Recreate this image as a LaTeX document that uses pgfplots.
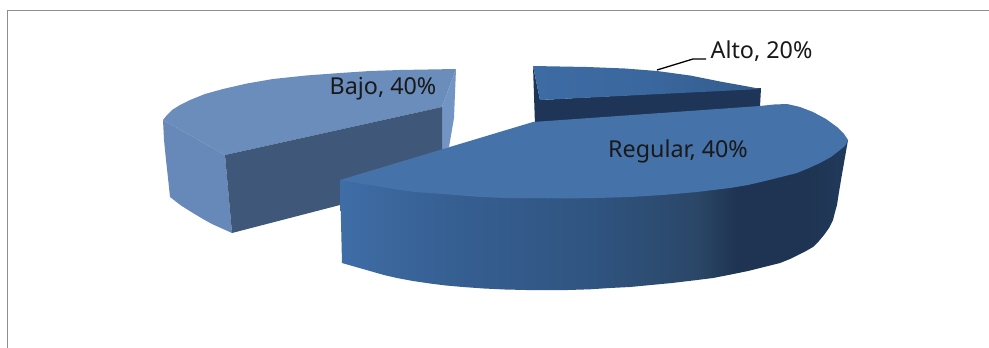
\documentclass[border=0pt]{standalone}
\usepackage{fontspec}
\setmainfont{Noto Sans}
\usepackage{pgfplots}
\pgfplotsset{compat=1.18}
\definecolor{frameline}{HTML}{8E8E8E}
\definecolor{bajotop}{HTML}{6A8DBC}
\definecolor{bajorim}{HTML}{6689B9}
\definecolor{bajoedge}{HTML}{7295C3}
\definecolor{bajowall}{HTML}{3F5879}
\definecolor{altotop}{HTML}{3A679E}
\definecolor{altowall}{HTML}{1E3557}
\definecolor{regtop}{HTML}{4472A9}
\definecolor{regA}{HTML}{3F6DA6}
\definecolor{regB}{HTML}{365F92}
\definecolor{regC}{HTML}{2F5480}
\definecolor{regD}{HTML}{2B4768}
\definecolor{regE}{HTML}{1F3452}
\definecolor{regF}{HTML}{203A5C}
\definecolor{altA}{HTML}{3D6BA3}
\definecolor{altB}{HTML}{345C8D}
% The middle of a declared shading (25bp to 75bp) spans the filled path.
\pgfdeclarehorizontalshading{regrim}{100bp}{
  color(0bp)=(regA); color(25bp)=(regA); color(36bp)=(regB); color(50bp)=(regC);
  color(60bp)=(regD); color(64bp)=(regE); color(71bp)=(regE); color(75bp)=(regF); color(100bp)=(regF)}
\pgfdeclarehorizontalshading{alttop}{100bp}{
  color(0bp)=(altA); color(25bp)=(altA); color(50bp)=(altotop); color(75bp)=(altB); color(100bp)=(altB)}
\begin{document}
\begin{tikzpicture}
\begin{axis}[
  scale only axis, width=989pt, height=348pt,
  xmin=0, xmax=989, ymin=0, ymax=348, y dir=reverse,
  hide axis,
  every axis plot/.append style={no markers},
]
% white ground that fixes the extent of the drawing
\addplot[fill=white, draw=none] coordinates {(0,0) (989,0) (989,348) (0,348)} -- cycle;
% chart frame: open on the right and at the bottom
\addplot[frameline, line width=1.3pt] coordinates {(7.5,348) (7.5,10.5) (989,10.5)};

% Bajo slice
\addplot[fill=bajotop, draw=none] coordinates {
  (456,69) (428,69.5) (400,70) (370,71) (340,73) (306,75.5) (273,79) (247,83.5) (223,89)
  (205,94) (190,100) (180,105) (172,110) (167,115) (163,120)
  (225,155) (442,107)} -- cycle;
\addplot[fill=bajorim, draw=none] coordinates {
  (163,120) (225,155) (232,233) (222,228.5) (212,224) (203,219) (193,213) (181,205.5) (170,197)
  (168,178) (166,160) (164,140)} -- cycle;
\addplot[fill=bajoedge, draw=none] coordinates {
  (456,69) (442,107) (442,150) (449,147) (454,118)} -- cycle;
\addplot[fill=bajowall, draw=none] coordinates {
  (225,155) (442,107) (442,155) (340,205) (232,233)} -- cycle;

% Alto slice
\addplot[fill=altowall, draw=none] coordinates {
  (533,66) (540,100) (761,88) (760,107) (640,122) (535,125)} -- cycle;
\addplot[shading=alttop, draw=none] coordinates {
  (533,66) (560,66.5) (587,67) (625,68.5) (657,71) (690,75.5) (720,81.5) (745,86) (761,89) (540,100)} -- cycle;

% Regular slice: curved wall first, top face over it
\addplot[shading=regrim, draw=none] coordinates {
  (340,180) (342,263) (356,267) (370,271) (384,275) (397,278) (413,281) (430,283.5) (446,285.5)
  (463,287) (484,288.5) (505,289.5) (526,290) (547,290) (568,290) (590,289.3) (610,288) (630,287)
  (651,285) (672,283) (693,280.5) (713,278) (731,274.5) (748,271) (764,267) (780,263) (790,259)
  (798,255) (806,251) (813,247) (819,241) (824,235) (829,228) (833,220) (835,212) (837,205)
  (839,192) (841,180) (848,140)} -- cycle;
\addplot[fill=regtop, draw=none] coordinates {
  (340,180) (533,122) (760,106) (774,104.5) (787,104) (800,107) (813,112) (826,119) (837,127)
  (844,134) (848,140) (845,146) (840,150) (831,157) (820,163) (809,168) (797,173) (781,177)
  (765,181) (748,185) (730,188) (697,192) (663,195) (630,197) (597,198) (563,198.5) (530,198)
  (505,198) (480,197) (455,195) (430,193) (415,192) (400,190) (385,187.5) (370,185) (355,182.5)} -- cycle;

% leader line of the Alto label
\addplot[black, line width=1.3pt] coordinates {(657,70) (693,59) (706,59)};

\node[font=\fontsize{23.3}{28}\selectfont, text=black!90, anchor=center, inner sep=0pt] at (axis cs:761.5,51) {Alto, 20\%};
\node[font=\fontsize{23.3}{28}\selectfont, text=black!90, anchor=center, inner sep=0pt] at (axis cs:383,89) {Bajo, 40\%};
\node[font=\fontsize{23.3}{28}\selectfont, text=black!90, anchor=center, inner sep=0pt] at (axis cs:678,151) {Regular, 40\%};
\end{axis}
\end{tikzpicture}
\end{document}
